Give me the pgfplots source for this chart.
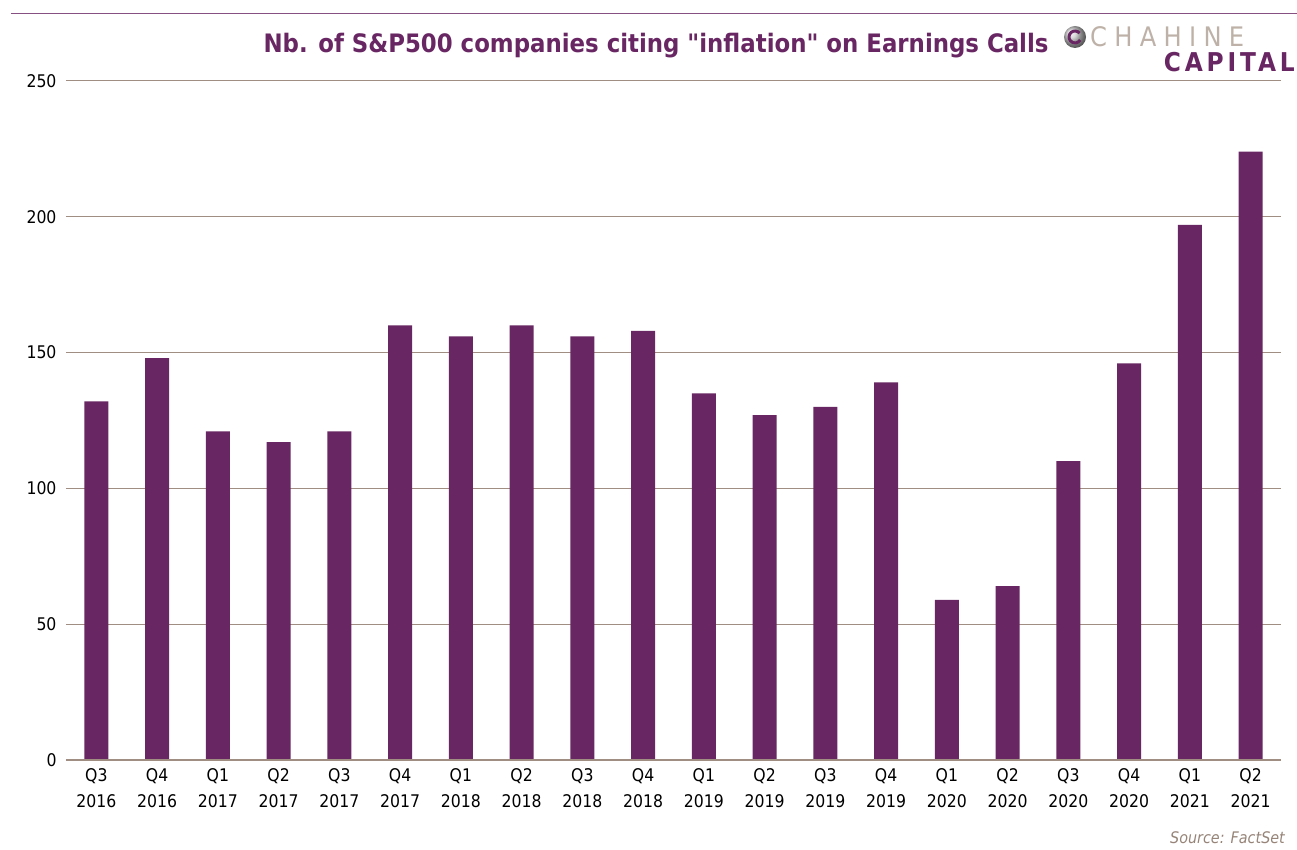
\documentclass[border=0pt]{standalone}
\usepackage{fontspec}
\setmainfont{DejaVu Sans Condensed}[Ligatures=TeXOff]
\usepackage{pgfplots}
\pgfplotsset{compat=1.18}
\definecolor{barc}{RGB}{104,38,99}
\definecolor{gridc}{RGB}{160,142,130}
\definecolor{titlec}{RGB}{104,38,99}
\definecolor{linec}{RGB}{135,80,130}
\definecolor{logogrey}{RGB}{190,178,168}
\definecolor{srcc}{RGB}{150,132,120}
\begin{document}
\begin{tikzpicture}
\begin{axis}[
  at={(0,0)}, anchor=south west,
  width=1215bp, height=679bp, scale only axis,
  xmin=-0.5, xmax=19.5, ymin=0, ymax=250,
  ybar, bar width=24bp,
  axis line style={draw=none},
  ytick={0,50,100,150,200,250},
  ymajorgrids, grid style={color=gridc, line width=1pt},
  major tick length=0pt,
  tick style={draw=none},
  xtick={0,...,19},
  xticklabels={Q3\\2016,Q4\\2016,Q1\\2017,Q2\\2017,Q3\\2017,Q4\\2017,Q1\\2018,Q2\\2018,Q3\\2018,Q4\\2018,Q1\\2019,Q2\\2019,Q3\\2019,Q4\\2019,Q1\\2020,Q2\\2020,Q3\\2020,Q4\\2020,Q1\\2021,Q2\\2021},
  xticklabel style={align=center, font=\fontsize{17.5}{26}\selectfont, yshift=-5bp},
  yticklabel style={font=\fontsize{17.5}{20}\selectfont, xshift=-6bp},
  /pgf/number format/assume math mode=true,
  clip=false,
]
\addplot[fill=barc, draw=none] coordinates {
(0,132) (1,148) (2,121) (3,117) (4,121) (5,160) (6,156) (7,160) (8,156) (9,158)
(10,135) (11,127) (12,130) (13,139) (14,59) (15,64) (16,110) (17,146) (18,197) (19,224)
};
\draw[gridc, line width=3pt] (rel axis cs:0,0) -- (rel axis cs:1,0);
\end{axis}
\path[use as bounding box] (-66bp,-90bp) rectangle (1231bp,760bp);
\draw[linec, line width=0.8pt] (-55bp,747bp) -- (1231bp,747bp);
\node[titlec, font=\fontsize{25.5}{28}\selectfont\bfseries, anchor=base] at (590bp,707bp) {Nb. of S\&P500 companies citing "inflation" on Earnings Calls};
\shade[ball color=gray!40] (1009bp,723bp) circle (11bp);
\draw[titlec, line width=3pt] (1009bp,723bp) ++(40:6bp) arc (40:330:6bp);
\node[logogrey, font=\fontsize{27}{28}\selectfont\addfontfeature{LetterSpace=27}, anchor=base west, inner sep=0pt] at (1024bp,713bp) {CHAHINE};
\node[titlec, font=\fontsize{26}{28}\selectfont\bfseries\addfontfeature{LetterSpace=15}, anchor=base east, inner sep=0pt] at (1229bp,688bp) {CAPITAL};
\node[srcc, font=\fontsize{16}{18}\selectfont\itshape, anchor=base east, inner sep=0pt] at (1219bp,-83bp) {Source: FactSet};
\end{tikzpicture}
\end{document}
